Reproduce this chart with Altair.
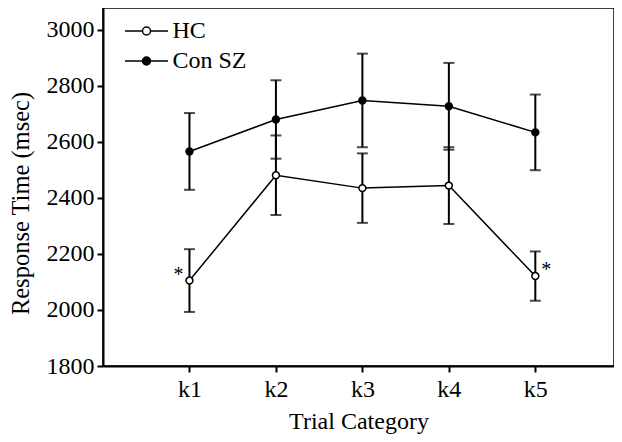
import altair as alt
import pandas as pd

categories = ["k1", "k2", "k3", "k4", "k5"]
series = ["HC", "Con SZ"]
hc_mean = [2105, 2481, 2435, 2444, 2121]
hc_err = [112, 142, 124, 137, 88]
sz_mean = [2566, 2680, 2748, 2727, 2634]
sz_err = [137, 140, 167, 155, 135]
star_left = ["k1"]
star_right = ["k5"]
y_ticks = [1800, 2000, 2200, 2400, 2600, 2800, 3000]

rows = []
for name, means, errs in [("HC", hc_mean, hc_err), ("Con SZ", sz_mean, sz_err)]:
    for i, (c, m, e) in enumerate(zip(categories, means, errs)):
        rows.append({"series": name, "cat": c, "pos": i + 1, "mean": m,
                     "lo": m - e, "hi": m + e})
df = pd.DataFrame(rows)

caps = pd.concat([
    df[["series", "pos"]].assign(v=df["lo"]),
    df[["series", "pos"]].assign(v=df["hi"]),
])

hc = df[df["series"] == "HC"].copy()
hc["txt"] = "*"
stars_l = hc[hc["cat"].isin(star_left)]
stars_r = hc[hc["cat"].isin(star_right)]

FONT = "Liberation Serif"
label_arr = "[''," + ",".join("'%s'" % c for c in categories) + "]"

xs = alt.Scale(domain=[0, 5.91], nice=False, zero=False)
ys = alt.Scale(domain=[1800, 3078], nice=False, zero=False)

x_enc = alt.X("pos:Q", scale=xs, title="Trial Category",
              axis=alt.Axis(values=[1, 2, 3, 4, 5],
                            labelExpr=label_arr + "[datum.value]",
                            labelPadding=5, titleFontSize=24,
                            titleBaseline="alphabetic", titleY=62))
y_enc = alt.Y("mean:Q", scale=ys, title="Response Time (msec)",
              axis=alt.Axis(values=y_ticks, format="d", labelPadding=3,
                            titleFontSize=24.5, titleBaseline="alphabetic",
                            titleX=-75, titleY=195, titleAngle=270,
                            titleAlign="center"))

base = alt.Chart(df)

rules = base.mark_rule(color="black", strokeWidth=2).encode(
    x=x_enc, y=alt.Y("lo:Q", scale=ys), y2="hi:Q")

cap_marks = alt.Chart(caps).mark_tick(color="black", thickness=2, size=11,
                                      orient="horizontal").encode(
    x=alt.X("pos:Q", scale=xs), y=alt.Y("v:Q", scale=ys))

lines = base.mark_line(color="black", strokeWidth=1.5).encode(
    x=x_enc, y=y_enc, detail="series:N")

sym = "M-2.15,0H-0.4A0.4,0.4 0 1,1 0.4,0A0.4,0.4 0 1,1 -0.4,0M0.4,0H2.15"

points = base.mark_point(filled=False, stroke="black", strokeWidth=1.5,
                         size=48, opacity=1, shape="circle").encode(
    x=x_enc, y=y_enc,
    fill=alt.Fill("series:N",
                  scale=alt.Scale(domain=series, range=["white", "black"]),
                  legend=alt.Legend(title=None, orient="none", legendX=31.5,
                                    legendY=11, symbolType=sym, symbolSize=400,
                                    symbolStrokeColor="black",
                                    symbolStrokeWidth=1.5, labelOffset=14,
                                    rowPadding=6, labelFont=FONT,
                                    labelFontSize=24, labelColor="black",
                                    symbolOpacity=1)))

star_l = alt.Chart(stars_l).mark_text(font=FONT, fontSize=20, color="black",
                                      baseline="alphabetic", dx=-11).encode(
    x=alt.X("pos:Q", scale=xs), y=alt.Y("mean:Q", scale=ys), text="txt:N")
star_r = alt.Chart(stars_r).mark_text(font=FONT, fontSize=20, color="black",
                                      baseline="alphabetic", dx=11).encode(
    x=alt.X("pos:Q", scale=xs), y=alt.Y("mean:Q", scale=ys), text="txt:N")

chart = alt.layer(rules, cap_marks, lines, points, star_l, star_r).properties(
    width=511, height=358,
    autosize=alt.AutoSizeParams(type="none"),
    padding={"left": 95, "top": 0, "right": 0, "bottom": 68},
).configure_view(stroke="black", strokeWidth=1.5).configure_axis(
    grid=False, domainColor="black", domainWidth=2, tickColor="black",
    tickWidth=2, tickSize=6, labelFont=FONT, labelFontSize=24,
    labelColor="black", titleFont=FONT,
    titleFontWeight="normal", titleColor="black",
)

chart.save("out.html", embed_options={"renderer": "svg", "actions": False})
